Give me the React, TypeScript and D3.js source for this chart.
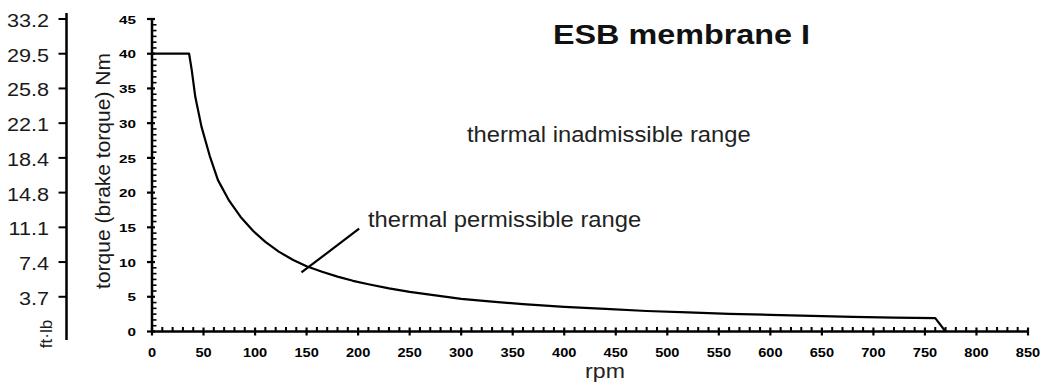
import React from "react";
import * as d3 from "d3";

// ---- data ----
const rpmValues = [0, 36, 38.5, 42, 48, 56, 64, 75, 86, 98, 110, 123, 137, 150, 165, 180, 195, 210, 230, 250, 275, 300, 330, 360, 400, 440, 480, 520, 560, 600, 640, 680, 720, 760, 770];
const torqueValues = [40, 40, 37.7, 33.8, 29.5, 25.3, 21.8, 18.8, 16.5, 14.5, 12.9, 11.5, 10.3, 9.4, 8.6, 7.9, 7.3, 6.8, 6.2, 5.7, 5.2, 4.7, 4.3, 3.95, 3.55, 3.25, 2.95, 2.75, 2.55, 2.4, 2.25, 2.12, 2.0, 1.92, 0];

const xTickValues = [0, 50, 100, 150, 200, 250, 300, 350, 400, 450, 500, 550, 600, 650, 700, 750, 800, 850];
const yTickValues = [0, 5, 10, 15, 20, 25, 30, 35, 40, 45];
const ftlbTickNm = [5, 10, 15, 20, 25, 30, 35, 40, 45];
const ftlbLabels = ["3.7", "7.4", "11.1", "14.8", "18.4", "22.1", "25.8", "29.5", "33.2"];

const title = "ESB membrane I";
const xAxisTitle = "rpm";
const yAxisTitle = "torque (brake torque) Nm";
const secondaryUnit = "ft·lb";
const labelInadmissible = "thermal inadmissible range";
const labelPermissible = "thermal permissible range";
// leader line endpoints in data space (rpm, Nm)
const leaderRpm = [145, 201];
const leaderNm = [8.5, 14.8];

const FONT = "'Liberation Sans', Arial, Helvetica, sans-serif";

function SText({ x, y, sx = 1, size, weight = "normal", anchor = "start", baseline = "alphabetic", fill = "#000", children }: any) {
  return (
    <g transform={`translate(${x},${y}) scale(${sx},1)`}>
      <text
        x={0}
        y={0}
        fontFamily={FONT}
        fontSize={size}
        fontWeight={weight}
        textAnchor={anchor}
        dominantBaseline={baseline}
        fill={fill}
      >
        {children}
      </text>
    </g>
  );
}

export default function App() {
  const W = 1042;
  const H = 385;
  const x = d3.scaleLinear().domain([0, 850]).range([152, 1028]);
  const y = d3.scaleLinear().domain([0, 45]).range([331.5, 19]);

  const pts = rpmValues.map((r, i) => ({ r, t: torqueValues[i] }));
  const line = d3
    .line<{ r: number; t: number }>()
    .x((d) => x(d.r))
    .y((d) => y(d.t));

  const xMinor = d3.range(0, 851, 10).filter((v) => v % 50 !== 0);
  const yMinor = d3.range(0, 45.001, 5 / 6).filter((v) => Math.abs(v / 5 - Math.round(v / 5)) > 0.01);

  const leftAxisX = 66.5;

  return (
    <svg width={W} height={H} style={{ position: "absolute", left: 0, top: 0, background: "#fff" }}>
      <rect x={0} y={0} width={W} height={H} fill="#fff" />

      {/* secondary ft·lb axis */}
      <line x1={leftAxisX} x2={leftAxisX} y1={13} y2={340} stroke="#000" strokeWidth={2.5} />
      {ftlbTickNm.map((v, i) => (
        <g key={"fl" + v}>
          <line x1={leftAxisX - 8} x2={leftAxisX} y1={y(v)} y2={y(v)} stroke="#000" strokeWidth={2} />
          <SText x={49} y={y(v) + 1.5} sx={1.17} size={18.5} anchor="end" baseline="central" fill="#1a1a1a">
            {ftlbLabels[i]}
          </SText>
        </g>
      ))}
      <g transform={`translate(46.5,334) rotate(-90)`}>
        <text x={0} y={0} fontFamily={FONT} fontSize={17} textAnchor="middle" dominantBaseline="central" fill="#1a1a1a">
          {secondaryUnit}
        </text>
      </g>

      {/* y axis title */}
      <g transform={`translate(102.5,171) rotate(-90)`}>
        <text x={0} y={0} fontFamily={FONT} fontSize={21} textAnchor="middle" dominantBaseline="central" fill="#1a1a1a">
          {yAxisTitle}
        </text>
      </g>

      {/* main y axis */}
      {yMinor.map((v) => (
        <line key={"ym" + v} x1={x(0)} x2={x(0) + 4.5} y1={y(v)} y2={y(v)} stroke="#000" strokeWidth={1.6} />
      ))}
      {yTickValues.map((v) => (
        <g key={"y" + v}>
          <line x1={x(0) - 5} x2={x(0) + 3} y1={y(v)} y2={y(v)} stroke="#000" strokeWidth={2.2} />
          <SText x={136} y={y(v) + 1} sx={1.45} size={10.5} weight="bold" anchor="end" baseline="central">
            {v}
          </SText>
        </g>
      ))}
      <line x1={x(0)} x2={x(0)} y1={y(45) - 1} y2={y(0) + 1} stroke="#000" strokeWidth={2.5} />

      {/* x axis */}
      {xMinor.map((v) => (
        <line key={"xm" + v} x1={x(v)} x2={x(v)} y1={y(0) - 4.5} y2={y(0)} stroke="#000" strokeWidth={2} />
      ))}
      {xTickValues.map((v) => (
        <g key={"x" + v}>
          <line x1={x(v)} x2={x(v)} y1={y(0) - 4} y2={y(0) + 4} stroke="#000" strokeWidth={2.2} />
          <SText x={x(v)} y={y(0) + 20.5} sx={1.08} size={13.5} weight="bold" anchor="middle" baseline="central">
            {v}
          </SText>
        </g>
      ))}
      <line x1={x(0) - 1} x2={x(850) + 1} y1={y(0)} y2={y(0)} stroke="#000" strokeWidth={2.5} />

      {/* data line */}
      <path d={line(pts) || ""} fill="none" stroke="#000" strokeWidth={2.2} strokeLinejoin="round" />

      {/* leader line */}
      <line
        x1={x(leaderRpm[0])}
        y1={y(leaderNm[0])}
        x2={x(leaderRpm[1])}
        y2={y(leaderNm[1])}
        stroke="#000"
        strokeWidth={2.2}
      />

      {/* annotations */}
      <SText x={x(209.6)} y={y(15.1)} sx={1.08} size={22} fill="#222">
        {labelPermissible}
      </SText>
      <SText x={x(305.6)} y={y(27.3)} sx={1.08} size={22} fill="#222">
        {labelInadmissible}
      </SText>

      {/* title */}
      <SText x={553} y={43.5} sx={1.155} size={28} weight="bold" fill="#111">
        {title}
      </SText>

      {/* x axis title */}
      <SText x={605} y={378} sx={1.1} size={21} anchor="middle" fill="#222">
        {xAxisTitle}
      </SText>
    </svg>
  );
}
